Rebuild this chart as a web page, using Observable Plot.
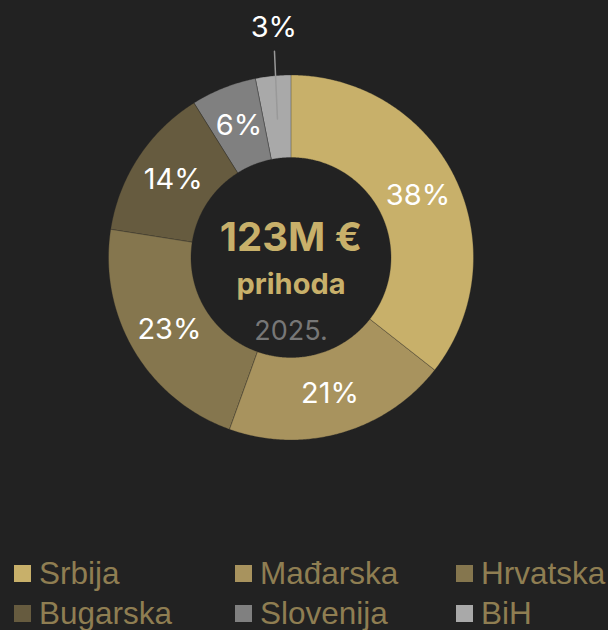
<!DOCTYPE html>
<html>
<head>
<meta charset="utf-8">
<script src="https://cdn.jsdelivr.net/npm/d3@7"></script>
<script src="https://cdn.jsdelivr.net/npm/@observablehq/plot@0.6"></script>
<style>
  html, body { margin: 0; padding: 0; background: #222222; }
  #chart svg { display: block; }
  .legend { display: grid; grid-template-columns: repeat(3, 221px); padding-left: 14px;
    font-family: "Liberation Sans", Arial, sans-serif; font-size: 31.5px; line-height: 40px; color: #8f7e52; }
  .legend .item { display: flex; align-items: center; white-space: nowrap; }
  .legend .sw { width: 17px; height: 17px; margin-right: 8px; flex: none; }
</style>
</head>
<body>
<div id="chart"></div>
<script>
// ---- data ----
const countries = ["Srbija", "Mađarska", "Hrvatska", "Bugarska", "Slovenija", "BiH"];
const shares = [35.6, 19.9, 22.0, 13.6, 5.8, 3.1];
const pctLabels = ["38%", "21%", "23%", "14%", "6%", "3%"];
const colors = ["#c8b06a", "#a8935e", "#85764e", "#665b3f", "#808080", "#a9a9a9"];
const centerTitle = "123M €";
const centerSub = "prihoda";
const centerYear = "2025.";

// ---- layout constants ----
const W = 608, H = 553, CX = 290.5, CY = 257;
const R_OUT = 182.5, R_IN = 100, R_LAB = (R_OUT + R_IN) / 2;

const data = countries.map((c, i) => ({country: c, share: shares[i], label: pctLabels[i]}));
const arcs = d3.pie().sort(null).value(d => d.share)(data);

const pt = (a, r) => ({x: r * Math.sin(a), y: r * Math.cos(a)});
const polys = [];
for (const a of arcs) {
  const n = Math.max(4, Math.ceil((a.endAngle - a.startAngle) / (Math.PI / 360)));
  for (let k = 0; k <= n; k++) {
    const t = a.startAngle + (a.endAngle - a.startAngle) * k / n;
    polys.push({country: a.data.country, ...pt(t, R_OUT)});
  }
  for (let k = n; k >= 0; k--) {
    const t = a.startAngle + (a.endAngle - a.startAngle) * k / n;
    polys.push({country: a.data.country, ...pt(t, R_IN)});
  }
}

const inside = [], outside = [], leaders = [];
for (const a of arcs) {
  const mid = (a.startAngle + a.endAngle) / 2;
  if (a.data.share < 4) {
    const off = Math.PI / 180;
    leaders.push({id: a.data.country, ...pt(mid, R_LAB - 2)});
    leaders.push({id: a.data.country, ...pt(mid + off, 207)});
    outside.push({label: a.data.label, ...pt(mid + 1.3 * off, 230)});
  } else {
    inside.push({label: a.data.label, ...pt(mid, R_LAB)});
  }
}

const chart = Plot.plot({
  width: W, height: H, margin: 0,
  style: {background: "#222222", overflow: "visible"},
  x: {domain: [-CX, W - CX], axis: null},
  y: {domain: [-(H - CY), CY], axis: null},
  color: {domain: countries, range: colors},
  marks: [
    Plot.line(polys, {x: "x", y: "y", z: "country", fill: "country", curve: "linear-closed",
      stroke: "#222222", strokeOpacity: 0.45, strokeWidth: 0.7}),
    Plot.line(leaders, {x: "x", y: "y", z: "id", stroke: "#999999", strokeWidth: 1.5}),
    Plot.text(inside, {x: "x", y: "y", text: "label", fill: "white", fontSize: 29,
      fontFamily: "Inter", fontWeight: 400}),
    Plot.text(outside, {x: "x", y: "y", text: "label", fill: "white", fontSize: 29,
      fontFamily: "Inter", fontWeight: 400}),
    Plot.text([centerTitle], {x: 0, y: 0, text: d => d, dy: -19, fill: "#c8b06a", fontSize: 40,
      fontFamily: "Inter", fontWeight: 700}),
    Plot.text([centerSub], {x: 0, y: 0, text: d => d, dy: 27, fill: "#c8b06a", fontSize: 29,
      fontFamily: "Inter", fontWeight: 700}),
    Plot.text([centerYear], {x: 0, y: 0, text: d => d, dy: 74, fill: "#777777", fontSize: 27,
      fontFamily: "Inter", fontWeight: 400})
  ]
});
document.getElementById("chart").appendChild(chart);

// legend
const legend = d3.select("body").append("div").attr("class", "legend");
const items = legend.selectAll("div.item").data(countries).join("div").attr("class", "item");
items.append("span").attr("class", "sw").style("background", (d, i) => colors[i]);
items.append("span").text(d => d);
</script>
</body>
</html>
